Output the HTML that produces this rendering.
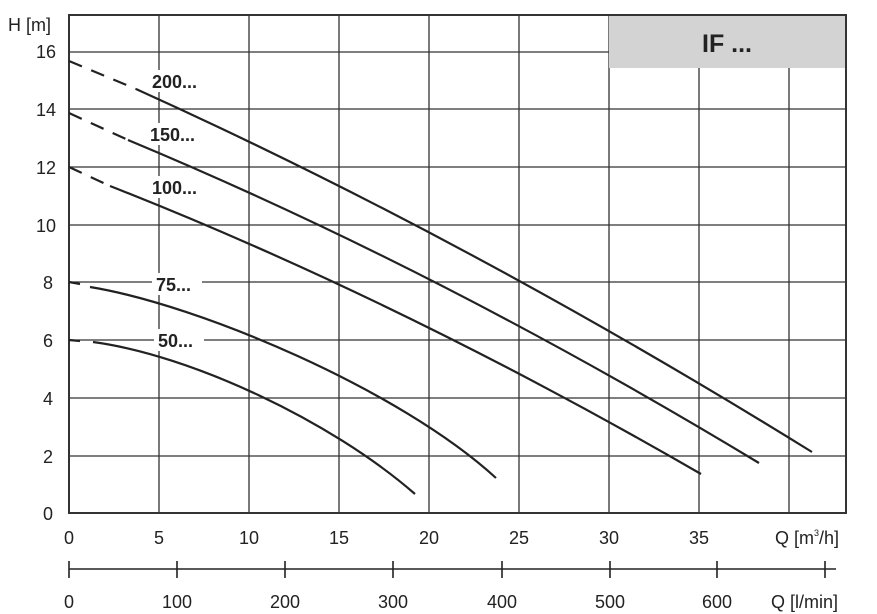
<!DOCTYPE html>
<html><head><meta charset="utf-8"><style>body{margin:0;background:#fff}svg{display:block}text{font-family:"Liberation Sans",sans-serif;fill:#222}</style></head><body>
<svg width="877" height="614" viewBox="0 0 877 614" xmlns="http://www.w3.org/2000/svg">
<g stroke="#333" stroke-width="1.3" fill="none">
<path d="M159 15V513M249 15V513M339 15V513M429 15V513M519 15V513M609 15V513M699 15V513M789 15V513"/>
<path d="M69 52H846M69 109H846M69 167H846M69 225H846M69 282H846M69 340H846M69 398H846M69 456H846"/>
</g>
<rect x="609" y="15" width="237" height="53" fill="#d3d3d3"/>
<rect x="69" y="15" width="777" height="498" stroke="#333" stroke-width="2" fill="none"/>
<text x="727" y="52" font-size="25" font-weight="bold" text-anchor="middle">IF ...</text>
<g fill="#fff">
<rect x="148" y="70" width="58" height="22"/><rect x="146" y="123" width="58" height="22"/><rect x="148" y="176" width="58" height="22"/><rect x="152" y="273" width="50" height="22"/><rect x="154" y="329" width="50" height="22"/>
</g>
<g font-size="18" font-weight="bold">
<text x="152" y="88">200...</text><text x="150" y="141">150...</text><text x="152" y="194">100...</text><text x="156" y="291">75...</text><text x="158" y="347">50...</text>
</g>
<g stroke="#222" stroke-width="2.2" fill="none">
<path d="M69 61L136 89" stroke-dasharray="14,10"/>
<path d="M136 89Q470 240 812 452"/>
<path d="M69 113L128 140" stroke-dasharray="14,10"/>
<path d="M128 140Q440 270 759 463"/>
<path d="M69 167L110 186" stroke-dasharray="14,10"/>
<path d="M110 186Q400 300 701 474"/>
<path d="M69 282L80 284"/>
<path d="M90 287C200 305 400 390 496 478"/>
<path d="M69 340L80 341"/>
<path d="M93 342C190 355 330 420 415 494"/>
</g>
<g font-size="18" text-anchor="middle">
<text x="46" y="58">16</text><text x="46" y="116">14</text><text x="46" y="174">12</text><text x="46" y="232">10</text><text x="48" y="289">8</text><text x="48" y="347">6</text><text x="48" y="405">4</text><text x="48" y="463">2</text><text x="48" y="520">0</text>
<text x="69" y="544">0</text><text x="159" y="544">5</text><text x="249" y="544">10</text><text x="339" y="544">15</text><text x="429" y="544">20</text><text x="519" y="544">25</text><text x="609" y="544">30</text><text x="699" y="544">35</text>
<text x="69" y="608">0</text><text x="177" y="608">100</text><text x="285" y="608">200</text><text x="393" y="608">300</text><text x="502" y="608">400</text><text x="610" y="608">500</text><text x="717" y="608">600</text>
</g>
<text x="8" y="31" font-size="18">H [m]</text>
<text x="775" y="544" font-size="18">Q [m<tspan font-size="9" dy="-8">3</tspan><tspan dy="8">/h]</tspan></text>
<text x="771" y="608" font-size="18">Q [l/min]</text>
<g stroke="#222" stroke-width="1.6">
<path d="M69 569H836M69 561V578M177 561V578M285 561V578M393 561V578M502 561V578M610 561V578M717 561V578M825 561V578"/>
</g>
</svg>
</body></html>
